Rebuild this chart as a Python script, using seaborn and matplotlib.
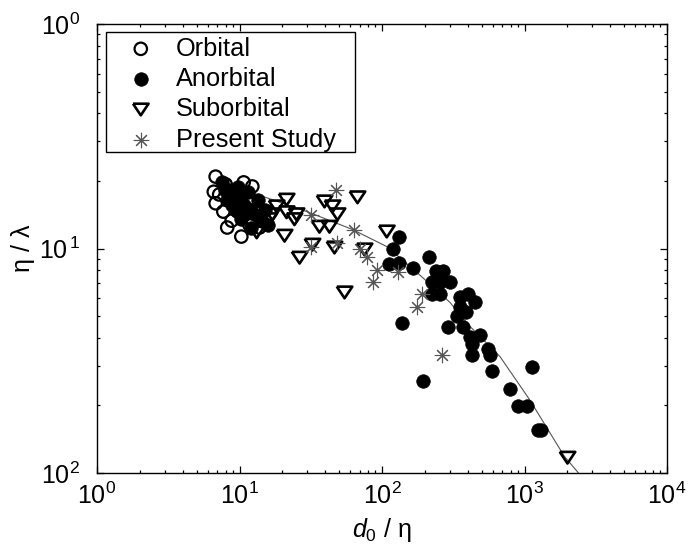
import numpy as np
import pandas as pd
import matplotlib
matplotlib.use("Agg")
import matplotlib.pyplot as plt
from matplotlib.patches import Rectangle
from matplotlib.ticker import FixedLocator, FixedFormatter, LogLocator, NullFormatter
import seaborn as sns

# ---------------- data ----------------
orbital_x = [6.8, 6.6, 6.8, 7.7, 8.8, 10.3, 10.7, 12.3, 8.0, 9.4, 11.4, 7.2, 12.9, 11.7, 9.7, 13.8, 8.2, 10.8]
orbital_y = [0.209, 0.179, 0.159, 0.146, 0.133, 0.113, 0.197, 0.189, 0.193, 0.165, 0.165, 0.174, 0.146, 0.128,
             0.146, 0.124, 0.124, 0.143]

anorbital_x = [7.5, 8.5, 9.2, 10.0, 10.8, 11.7, 12.7, 14.3, 15.8, 9.7, 8.2, 11.4, 13.4, 15.1, 10.3, 12.1, 9.4,
               7.9, 8.8, 11.0,
               132, 119.5, 112, 132, 165, 214, 239, 268, 224, 255, 300, 224, 255, 353, 401, 449, 353, 336, 388,
               138, 290, 370, 414, 487, 428, 428, 554, 573, 591, 1129, 791, 900, 1041, 1244, 1310, 194]
anorbital_y = [0.197, 0.183, 0.174, 0.165, 0.157, 0.149, 0.142, 0.132, 0.127, 0.187, 0.165, 0.179, 0.165, 0.149,
               0.135, 0.124, 0.149, 0.183, 0.157, 0.142,
               0.113, 0.099, 0.0849, 0.0866, 0.0815, 0.0912, 0.079, 0.079, 0.0706, 0.0706, 0.0706, 0.0624,
               0.0624, 0.0611, 0.0624, 0.0575, 0.0551, 0.0498, 0.0524, 0.0468, 0.0445, 0.0445, 0.0402, 0.041,
               0.0374, 0.0334, 0.0355, 0.0337, 0.0286, 0.0298, 0.0236, 0.0198, 0.0198, 0.0156, 0.0156, 0.0256]

suborbital_x = [13.2, 14.5, 16.2, 18.2, 21.4, 21.4, 25.1, 20.7, 26.4, 32.5, 36.4, 39.5, 44.9, 48.7, 42.8, 46.4,
                67.3, 75.4, 108, 54.6, 2003, 12.1, 17.0, 24.3]
suborbital_y = [0.118, 0.145, 0.135, 0.154, 0.165, 0.145, 0.142, 0.114, 0.091, 0.104, 0.125, 0.162, 0.154, 0.142,
                0.125, 0.101, 0.169, 0.099, 0.119, 0.0637, 0.0117, 0.128, 0.142, 0.135]

present_x = [47.9, 32.0, 63.1, 31.5, 48.7, 69.6, 79.1, 91.5, 87.1, 129.5, 191, 176, 264]
present_y = [0.183, 0.1417, 0.1215, 0.102, 0.1063, 0.099, 0.0921, 0.0806, 0.0706, 0.0782, 0.0624, 0.0551, 0.0334]

curve_x = [10, 17.0, 31.0, 62.1, 108, 176, 300, 414, 673, 1084, 1909, 2393]
curve_y = [0.185, 0.165, 0.1446, 0.1215, 0.102, 0.0782, 0.0575, 0.045, 0.033, 0.02125, 0.01184, 0.01]

series_labels = ["Orbital", "Anorbital", "Suborbital", "Present Study"]
x_tick_values = [1, 10, 100, 1000, 10000]
x_tick_labels = [r"$10^0$", r"$10^1$", r"$10^2$", r"$10^3$", r"$10^4$"]
y_tick_values = [0.01, 0.1, 1]
y_tick_labels = [r"$10^2$", r"$10^{\,1}$", r"$10^0$"]

# ---------------- style ----------------
sns.set_theme(style="white")
plt.rcParams["font.family"] = ["Liberation Sans", "DejaVu Sans"]
plt.rcParams["mathtext.fontset"] = "custom"
plt.rcParams["mathtext.rm"] = "Liberation Sans"
plt.rcParams["mathtext.it"] = "Liberation Sans:italic"
plt.rcParams["mathtext.default"] = "regular"

fig = plt.figure(figsize=(7.0, 5.51), dpi=100)
ax = fig.add_axes([97 / 700, 1 - 473 / 551, 570 / 700, 449 / 551])

curve_df = pd.DataFrame({"x": curve_x, "y": curve_y})
sns.lineplot(data=curve_df, x="x", y="y", sort=False, estimator=None, color="#555555",
             linewidth=0.8, ax=ax, zorder=1, legend=False)

sns.scatterplot(x=orbital_x, y=orbital_y, marker="o", s=80, facecolor="none",
                edgecolor="black", linewidth=1.6, ax=ax, zorder=2)
sns.scatterplot(x=anorbital_x, y=anorbital_y, marker="o", s=95, color="black",
                edgecolor="black", linewidth=0.5, ax=ax, zorder=3)
tri = [(-1.0, 0.75), (1.0, 0.75), (0.0, -0.75), (-1.0, 0.75)]
sns.scatterplot(x=suborbital_x, y=suborbital_y, marker=tri, s=125, facecolor="none",
                edgecolor="black", linewidth=1.9, ax=ax, zorder=4)
sns.scatterplot(x=present_x, y=present_y, marker=(8, 2, 0), s=110, color="#555555",
                linewidth=0.8, ax=ax, zorder=5)

colls = ax.collections
colls[0].set_facecolor("none")
colls[2].set_facecolor("none")

ax.set_xscale("log")
ax.set_yscale("log")
ax.set_xlim(1, 10000)
ax.set_ylim(0.01, 1)

ax.xaxis.set_major_locator(FixedLocator(x_tick_values))
ax.xaxis.set_major_formatter(FixedFormatter(x_tick_labels))
ax.xaxis.set_minor_locator(LogLocator(base=10, subs=np.arange(2, 10), numticks=20))
ax.xaxis.set_minor_formatter(NullFormatter())
ax.yaxis.set_major_locator(FixedLocator(y_tick_values))
ax.yaxis.set_major_formatter(FixedFormatter(y_tick_labels))
ax.yaxis.set_minor_locator(LogLocator(base=10, subs=np.arange(2, 10), numticks=20))
ax.yaxis.set_minor_formatter(NullFormatter())

ax.tick_params(which="both", direction="in", top=True, right=True, bottom=True, left=True,
               color="black", width=0.9)
ax.tick_params(which="major", length=5, labelsize=18, pad=7, labelcolor="black")
ax.tick_params(which="minor", length=2.5)
ax.tick_params(axis="y", which="major", pad=12)
for sp in ax.spines.values():
    sp.set_color("black")
    sp.set_linewidth(1.0)

ax.set_xlabel(r"$\it{d}_{0}$ / η", fontsize=18, color="black", labelpad=5)
ax.set_ylabel("η / λ", fontsize=18, color="black", labelpad=3)

# legend
handles = [colls[0], colls[1], colls[2], colls[3]]
frame = Rectangle((9 / 570, (473 - 152) / 449), (355 - 106) / 570, (152 - 32) / 449,
                  transform=ax.transAxes, facecolor="white", edgecolor="black", linewidth=1.0, zorder=6)
ax.add_patch(frame)
leg = ax.legend(handles, series_labels, loc="upper left", bbox_to_anchor=(19.0 / 570, (473 - 36.5) / 449),
                borderaxespad=0, borderpad=0, frameon=False, fontsize=18.3, handlelength=1.95,
                handletextpad=0.42, labelspacing=0.25, scatterpoints=1)
leg.set_zorder(7)
for t in leg.get_texts():
    t.set_color("black")

fig.savefig("out.png", dpi=100)
